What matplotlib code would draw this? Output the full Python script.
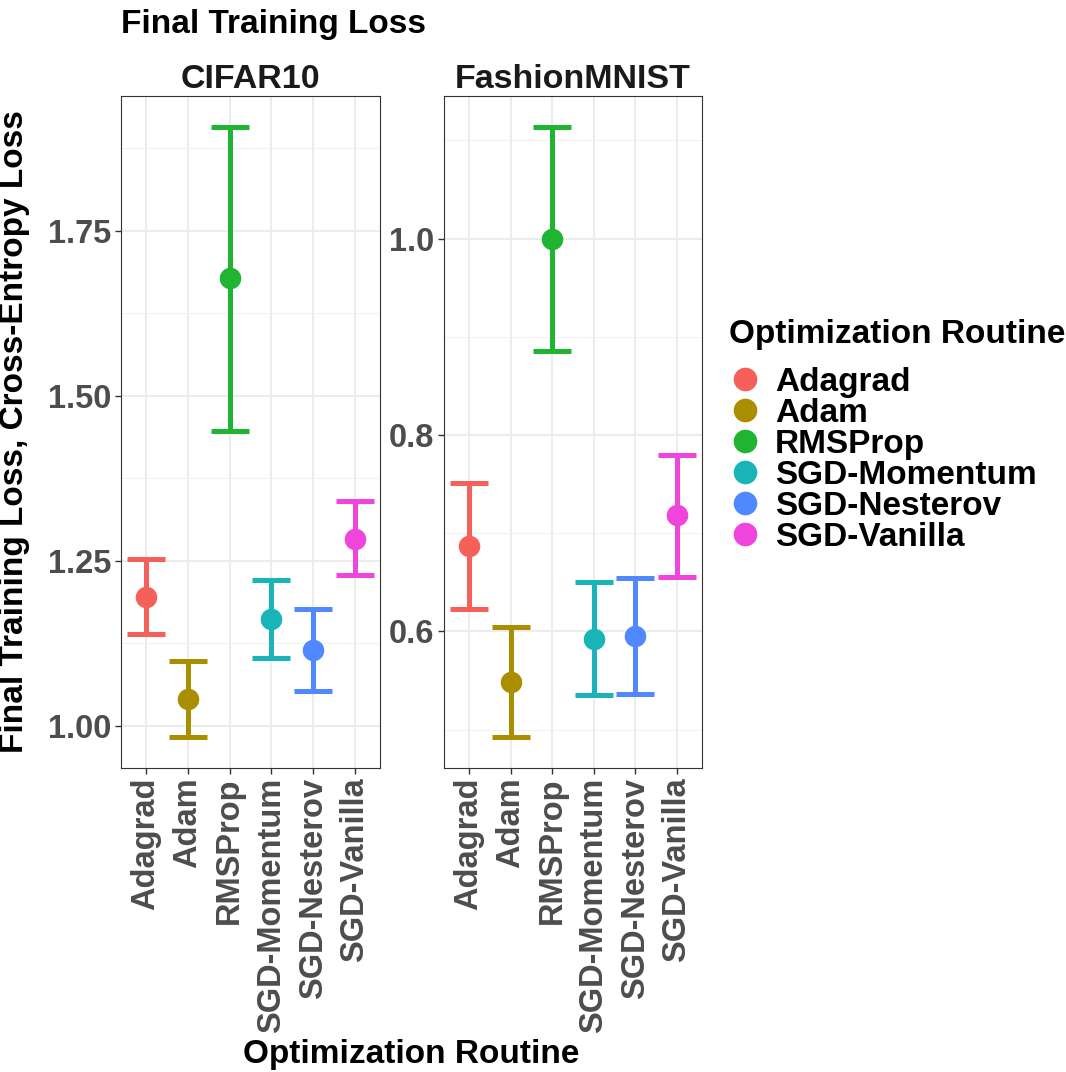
import matplotlib.pyplot as plt
from matplotlib.ticker import FixedLocator
from matplotlib.lines import Line2D

routines = ['Adagrad', 'Adam', 'RMSProp', 'SGD-Momentum', 'SGD-Nesterov', 'SGD-Vanilla']
colors = ['#F5605A', '#A98F00', '#1FB533', '#19B4B8', '#5088FF', '#EF45DD']

cifar_mean = [1.195, 1.041, 1.679, 1.161, 1.115, 1.283]
cifar_low = [1.139, 0.982, 1.447, 1.102, 1.053, 1.229]
cifar_high = [1.253, 1.098, 1.908, 1.221, 1.176, 1.341]

fmnist_mean = [0.6865, 0.548, 0.999, 0.592, 0.595, 0.718]
fmnist_low = [0.6224, 0.492, 0.885, 0.535, 0.536, 0.655]
fmnist_high = [0.7506, 0.604, 1.114, 0.650, 0.654, 0.780]

plt.rcParams['font.family'] = ['Liberation Sans', 'DejaVu Sans']
plt.rcParams['font.weight'] = 'bold'

fig = plt.figure(figsize=(10.66, 10.72), dpi=100)
ax1 = fig.add_axes([121 / 1066, 1 - 768 / 1072, 259 / 1066, 672 / 1072])
ax2 = fig.add_axes([444 / 1066, 1 - 768 / 1072, 258 / 1066, 672 / 1072])

panels = [
    (ax1, 'CIFAR10', cifar_mean, cifar_low, cifar_high, 0.25, [1.0, 1.25, 1.5, 1.75], '%.2f'),
    (ax2, 'FashionMNIST', fmnist_mean, fmnist_low, fmnist_high, 0.2, [0.6, 0.8, 1.0], '%.1f'),
]

for ax, name, mean, low, high, step, majors, fmt in panels:
    for i in range(len(routines)):
        ax.errorbar(i, mean[i], yerr=[[mean[i] - low[i]], [high[i] - mean[i]]],
                    fmt='o', color=colors[i], ms=14.5, elinewidth=3.6,
                    capsize=13.5, capthick=3.6, zorder=3)
    ax.set_xlim(-0.6, 5.6)
    ax.margins(y=0.05)
    ax.set_xticks(range(len(routines)))
    ax.set_xticklabels(routines, rotation=90, fontsize=23.5, color='#4D4D4D', fontweight='bold')
    ax.yaxis.set_major_locator(FixedLocator(majors))
    ax.yaxis.set_minor_locator(FixedLocator([m - step / 2 for m in majors] + [majors[-1] + step / 2]))
    ax.set_yticklabels([fmt % v for v in majors], fontsize=23.5, color='#4D4D4D', fontweight='bold')
    ax.grid(which='major', color='#EBEBEB', linewidth=1.3, zorder=0)
    ax.grid(which='minor', axis='y', color='#F2F2F2', linewidth=0.8, zorder=0)
    ax.set_axisbelow(True)
    ax.tick_params(which='major', length=4, width=1, color='#333333', pad=3)
    ax.tick_params(which='minor', length=0)
    for s in ax.spines.values():
        s.set_color('#333333')
        s.set_linewidth(0.8)
    ax.set_title(name, fontsize=24.5, fontweight='bold', color='#1A1A1A', pad=6)

ax1.set_ylabel('Final Training Loss, Cross-Entropy Loss', fontsize=24, fontweight='bold')
ax1.yaxis.set_label_coords(-(121 - 30) / 259, 0.5)

fig.text(121 / 1066, 1 - 25 / 1072, 'Final Training Loss', fontsize=24, fontweight='bold',
         ha='left', va='center')
fig.text(411 / 1066, 1 - 1055 / 1072, 'Optimization Routine', fontsize=24, fontweight='bold',
         ha='center', va='center')

# legend title placed by hand, entries below it
fig.text(729 / 1066, 1 - 334 / 1072, 'Optimization Routine', fontsize=24, fontweight='bold',
         ha='left', va='center')
handles = [Line2D([], [], marker='o', linestyle='none', color=c, ms=16) for c in colors]
fig.legend(handles, routines, loc='upper left',
           bbox_to_anchor=(729 / 1066, 1 - 367 / 1072), frameon=False,
           prop={'size': 24, 'weight': 'bold'}, borderpad=0, borderaxespad=0,
           labelspacing=0.0, handletextpad=0.42, handlelength=0.96)

fig.savefig('out.png', dpi=100)
